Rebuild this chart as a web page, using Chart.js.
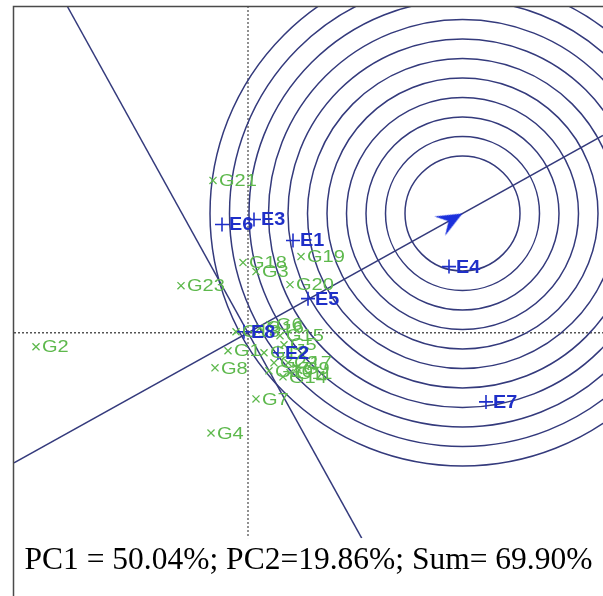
<!DOCTYPE html>
<html>
<head>
<meta charset="utf-8">
<script src="https://cdn.jsdelivr.net/npm/chart.js@4"></script>
<style>
  html, body { margin: 0; padding: 0; background: #fff; }
  #wrap { width: 603px; height: 596px; }
</style>
</head>
<body>
<div id="wrap"><canvas id="biplot" width="603" height="596"></canvas></div>
<script>
// environment scores (PC1, PC2)
const envNames = ['E1', 'E2', 'E3', 'E4', 'E5', 'E6', 'E7', 'E8']
const envPC1 = [0.45, 0.30, 0.06, 2.01, 0.60, -0.26, 2.38, -0.04]
const envPC2 = [0.92, -0.20, 1.13, 0.66, 0.34, 1.08, -0.69, 0.01]

// genotype scores (PC1, PC2)
const genoNames = ['G21', 'G23', 'G18', 'G3', 'G19', 'G20', 'G2', 'G13', 'G6', 'G15', 'G1', 'G12', 'G8', 'G10', 'G9', 'G14', 'G11', 'G7', 'G4', 'G16', 'G17', 'G22', 'G5']
const genoPC1 = [-0.35, -0.67, -0.05, 0.08, 0.53, 0.42, -2.12, -0.12, 0.22, 0.32, -0.20, 0.16, -0.33, 0.21, 0.49, 0.35, 0.42, 0.08, -0.37, 0.12, 0.40, 0.26, 0.36]
const genoPC2 = [1.52, 0.47, 0.70, 0.61, 0.76, 0.48, -0.14, 0.01, 0.08, -0.03, -0.18, -0.20, -0.35, -0.38, -0.35, -0.44, -0.40, -0.66, -1.00, 0.05, -0.30, -0.30, -0.12]

// average environment coordinate (circle centre) and ring radii
const aecCenter = { x: 2.145, y: 1.19 }
const ringRadii = [0.575, 0.77, 0.965, 1.16, 1.355, 1.55, 1.745, 1.94, 2.135, 2.33, 2.525]

// AEC abscissa and its perpendicular, end points at the plot edges
const aecLine = [{ x: -2.34, y: -1.298 }, { x: 3.55, y: 1.97 }]
const perpLine = [{ x: -1.809, y: 3.26 }, { x: 1.137, y: -2.05 }]

const caption = 'PC1 = 50.04%; PC2=19.86%; Sum= 69.90%'

const navy = '#343a7c'
const envBlue = '#1f2fc8'
const genoGreen = '#5db84c'

// arrow head image, tip at the image centre, pointing right
const arrowImg = document.createElement('canvas')
arrowImg.width = 60
arrowImg.height = 60
const actx = arrowImg.getContext('2d')
actx.fillStyle = '#1b30dc'
actx.beginPath()
actx.moveTo(30, 30)
actx.lineTo(4, 19)
actx.lineTo(14, 30)
actx.lineTo(4, 41)
actx.closePath()
actx.fill()

const envPoints = envPC1.map((v, i) => ({ x: v, y: envPC2[i] }))
const genoPoints = genoPC1.map((v, i) => ({ x: v, y: genoPC2[i] }))

// labels in the reference are drawn wide, so stretch them sideways
function wideText(c, txt, x, y, stretch) {
    c.save()
    c.translate(x, y)
    c.scale(stretch, 1)
    c.fillText(txt, 0, 0)
    c.restore()
}

const biplotDecor = {
    id: 'biplotDecor',
    beforeDraw(chart) {
        const c = chart.ctx
        c.save()
        c.fillStyle = '#fff'
        c.fillRect(0, 0, chart.width, chart.height)
        c.restore()
    },
    beforeDatasetsDraw(chart) {
        const c = chart.ctx, a = chart.chartArea
        const xs = chart.scales.x, ys = chart.scales.y
        c.save()
        c.beginPath()
        c.rect(a.left, a.top, a.right - a.left, a.bottom - a.top)
        c.clip()
        // dotted axes through the origin
        c.strokeStyle = '#555'
        c.lineWidth = 1.3
        c.setLineDash([2, 2])
        const ox = xs.getPixelForValue(0), oy = ys.getPixelForValue(0)
        c.beginPath()
        c.moveTo(a.left, oy); c.lineTo(a.right, oy)
        c.moveTo(ox, a.top); c.lineTo(ox, a.bottom)
        c.stroke()
        c.setLineDash([])
        // concentric rings
        const cx = xs.getPixelForValue(aecCenter.x), cy = ys.getPixelForValue(aecCenter.y)
        c.strokeStyle = navy
        c.lineWidth = 1.5
        ringRadii.forEach(r => {
            const rp = xs.getPixelForValue(aecCenter.x + r) - cx
            c.beginPath()
            c.arc(cx, cy, rp, 0, Math.PI * 2)
            c.stroke()
        })
        c.restore()
    },
    afterDatasetsDraw(chart) {
        const c = chart.ctx
        c.save()
        c.textBaseline = 'middle'
        c.textAlign = 'left'
        c.font = '17px "Liberation Sans", Arial, sans-serif'
        c.fillStyle = genoGreen
        chart.getDatasetMeta(1).data.forEach((p, i) => {
            wideText(c, genoNames[i], p.x + 6, p.y + 1, 1.18)
        })
        c.font = 'bold 18px "Liberation Sans", Arial, sans-serif'
        c.fillStyle = envBlue
        chart.getDatasetMeta(0).data.forEach((p, i) => {
            wideText(c, envNames[i], p.x + 7, p.y + 1, 1.1)
        })
        c.restore()
    },
    afterDraw(chart) {
        // frame round the figure
        const c = chart.ctx
        c.save()
        c.strokeStyle = '#4a4a4a'
        c.lineWidth = 1.5
        c.beginPath()
        c.moveTo(13.5, chart.height)
        c.lineTo(13.5, 6.5)
        c.lineTo(chart.width, 6.5)
        c.stroke()
        c.restore()
    }
}

const ctx = document.getElementById('biplot').getContext('2d')

new Chart(ctx, {
    type: 'scatter',
    data: {
        datasets: [
            {
                label: 'Environments',
                data: envPoints,
                pointStyle: 'cross',
                pointRadius: 7,
                borderColor: envBlue,
                borderWidth: 1.6,
                order: 1
            },
            {
                label: 'Genotypes',
                data: genoPoints,
                pointStyle: 'crossRot',
                pointRadius: 5,
                borderColor: genoGreen,
                borderWidth: 1.3,
                order: 2
            },
            {
                label: 'AEC',
                type: 'line',
                data: aecLine,
                borderColor: navy,
                borderWidth: 1.5,
                pointRadius: 0,
                order: 3
            },
            {
                label: 'AEC perpendicular',
                type: 'line',
                data: perpLine,
                borderColor: navy,
                borderWidth: 1.5,
                pointRadius: 0,
                order: 3
            },
            {
                label: 'Arrow',
                data: [aecCenter],
                pointStyle: arrowImg,
                rotation: -29,
                pointRadius: 10,
                order: 0
            }
        ]
    },
    options: {
        responsive: false,
        animation: false,
        events: [],
        layout: {
            autoPadding: false,
            padding: { left: 14, top: 6, right: 0, bottom: 16 }
        },
        scales: {
            x: { type: 'linear', display: false, min: -2.34, max: 3.55 },
            y: { type: 'linear', display: false, min: -2.05, max: 3.26 }
        },
        plugins: {
            legend: { display: false },
            tooltip: { enabled: false },
            title: {
                display: true,
                position: 'bottom',
                text: caption,
                color: '#000',
                font: { family: '"Liberation Serif", "Times New Roman", serif', size: 31.5, weight: 'normal', lineHeight: 1.2 },
                padding: { top: 4, bottom: 0 }
            }
        }
    },
    plugins: [biplotDecor]
})
</script>
</body>
</html>
